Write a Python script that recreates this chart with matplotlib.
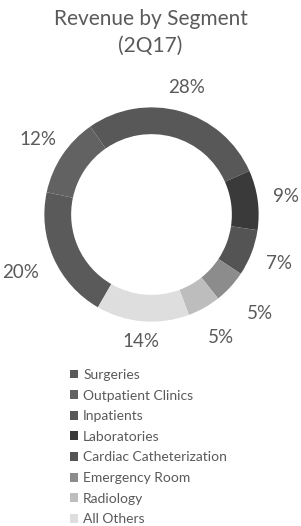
import numpy as np
import matplotlib.pyplot as plt

# Revenue by segment, 2Q17 (percent of total)
segments = ["Surgeries", "Outpatient Clinics", "Inpatients", "Laboratories",
            "Cardiac Catheterization", "Emergency Room", "Radiology", "All Others"]
shares = [20, 12, 28, 9, 7, 5, 5, 14]

colors = ["#5a5a5a", "#626262", "#585858", "#3a3a3a",
          "#545454", "#8c8c8c", "#bdbdbd", "#dedede"]
# radial distance of each percent label (in ring radii)
label_dist = [1.34, 1.27, 1.23, 1.27, 1.27, 1.37, 1.32, 1.19]

plt.rcParams["font.family"] = ["Lato", "DejaVu Sans"]
text_grey = "#5a5a5a"

W, H = 301, 526
fig = plt.figure(figsize=(W / 100, H / 100), dpi=100)
fig.patch.set_facecolor("white")

# pie axes: centre at (151.5, 214.5) px, ring radius 107 px
half = 150
ax = fig.add_axes([(151.5 - half) / W, (H - 214.5 - half) / H, 2 * half / W, 2 * half / H])

wedges, _ = ax.pie(shares, colors=colors, startangle=-120, counterclock=False,
                   radius=1.0, wedgeprops=dict(width=0.25, edgecolor="none"))
ax.set_xlim(-1.4, 1.4)
ax.set_ylim(-1.4, 1.4)
ax.set_aspect("equal")
ax.axis("off")

for w, v, d in zip(wedges, shares, label_dist):
    mid = np.deg2rad((w.theta1 + w.theta2) / 2)
    ax.text(d * np.cos(mid), d * np.sin(mid), f"{v}%", ha="center", va="center",
            fontsize=13.5, color=text_grey, clip_on=False)

fig.text(0.5, 1 - 19 / H, "Revenue by Segment", ha="center", va="center",
         fontsize=15, color=text_grey)
fig.text(0.5, 1 - 46 / H, "(2Q17)", ha="center", va="center",
         fontsize=15, color=text_grey)

leg = fig.legend(wedges, segments, loc="upper left",
                 bbox_to_anchor=(63 / W, 1 - 362 / H), frameon=False,
                 fontsize=10, handlelength=0.6, handleheight=0.6,
                 handletextpad=0.35, labelspacing=0.62, borderpad=0)
for t in leg.get_texts():
    t.set_color(text_grey)

fig.savefig("out.png", dpi=100, facecolor="white")
